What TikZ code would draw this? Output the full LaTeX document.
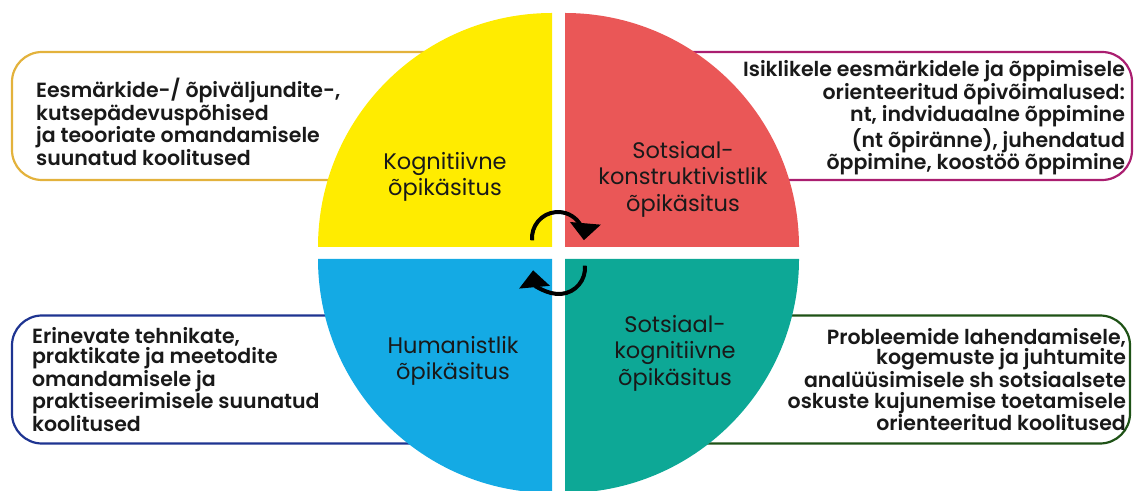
\documentclass[tikz,border=0pt]{standalone}
\usepackage{fontspec}
\setmainfont{Poppins}[BoldFont={Poppins SemiBold}]
\usetikzlibrary{positioning,arrows.meta}
\definecolor{kognyellow}{RGB}{255,236,0}
\definecolor{konstred}{RGB}{234,87,87}
\definecolor{humblue}{RGB}{20,170,228}
\definecolor{sotsteal}{RGB}{13,168,150}
\definecolor{goldline}{RGB}{227,178,60}
\definecolor{magentaline}{RGB}{170,30,112}
\definecolor{navyline}{RGB}{30,52,145}
\definecolor{greenline}{RGB}{30,82,22}
\tikzset{
	every node/.style = {inner sep = 0, text=black!90},
	quadlabel/.style = {font=\fontsize{22.5}{26.5}\selectfont, align=center},
	infotext/.style = {font=\fontsize{20.5}{20.5}\selectfont\bfseries},
	infobox/.style = {draw, line width=2.2pt, rounded corners=30pt, minimum width=470pt, minimum height=128pt},
	turn/.style = {line width=4pt, -{Triangle[length=17pt, width=30pt]}},
	>=latex
}
\begin{document}
\begin{tikzpicture}[x=1pt, y=1pt]
		\useasboundingbox (0,0) rectangle (1134,490);

		\node(tlbox)[infobox, draw=goldline] at (247,374) {};
		\node(trbox)[infobox, draw=magentaline, minimum width=492pt] at (886,374) {};
		\node(blbox)[infobox, draw=navyline] at (247,110.5) {};
		\node(brbox)[infobox, draw=greenline, minimum width=490pt] at (885,110.5) {};

		\fill[kognyellow] (552,243) -- ++(180:234) arc (180:90:234) -- cycle;
		\fill[konstred] (565,243) -- ++(90:234) arc (90:0:234) -- cycle;
		\fill[humblue] (552,231) -- ++(270:234) arc (270:180:234) -- cycle;
		\fill[sotsteal] (565,231) -- ++(0:234) arc (0:-90:234) -- cycle;

		\node(kogn)[quadlabel] at (445,313) {Kognitiivne\\õpikäsitus};
		\node(konst)[quadlabel] at (683,311) {Sotsiaal-\\konstruktivistlik\\õpikäsitus};
		\node(hum)[quadlabel] at (453,129) {Humanistlik\\õpikäsitus};
		\node(sotskogn)[quadlabel] at (675,137) {Sotsiaal-\\kognitiivne\\õpikäsitus};

		\node(tltext)[infotext, align=left, anchor=west] at ([xshift=25pt, yshift=-6pt]tlbox.west) {Eesmärkide-/ õpiväljundite-,\\kutsepädevuspõhised\\ja teooriate omandamisele\\suunatud koolitused};
		\node(trtext)[infotext, align=right, anchor=east] at ([xshift=-8pt, yshift=-2pt]trbox.east) {Isiklikele eesmärkidele ja õppimisele\\orienteeritud õpivõimalused:\\nt, indviduaalne õppimine\\(nt õpiränne), juhendatud\\õppimine, koostöö õppimine};
		\node(bltext)[infotext, align=left, anchor=west] at ([xshift=21pt]blbox.west) {Erinevate tehnikate,\\praktikate ja meetodite\\omandamisele ja\\praktiseerimisele suunatud\\koolitused};
		\node(brtext)[infotext, align=right, anchor=east] at ([xshift=-5pt]brbox.east) {Probleemide lahendamisele,\\kogemuste ja juhtumite\\analüüsimisele sh sotsiaalsete\\oskuste kujunemise toetamisele\\orienteeritud koolitused};

		\coordinate(uppivot) at (558,252);
		\coordinate(lowpivot) at (559,222);
		\draw[turn] (uppivot) ++(185:26) arc (185:-5:26);
		\draw[turn] (lowpivot) ++(5:26) arc (5:-175:26);
\end{tikzpicture}
\end{document}
